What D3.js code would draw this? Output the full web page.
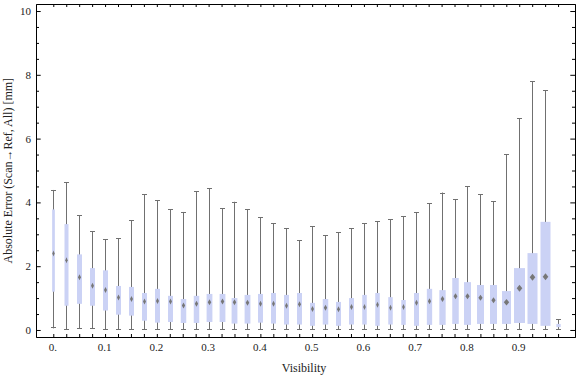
<!DOCTYPE html>
<html lang="en">
<head>
<meta charset="utf-8">
<title>error vs visibility</title>
<script src="https://d3js.org/d3.v7.min.js"></script>
<style>
  body{margin:0;background:#fff;}
  svg text{font-family:"Liberation Serif","Times New Roman",serif;fill:#222;}
  .axis path,.axis line{stroke:#000;}
</style>
</head>
<body>
<div id="chart"></div>
<script>
// one box per visibility bin
var visibility = [0, 0.025, 0.05, 0.075, 0.1, 0.125, 0.15, 0.175, 0.2, 0.225,
                  0.25, 0.275, 0.3, 0.325, 0.35, 0.375, 0.4, 0.425, 0.45, 0.475,
                  0.5, 0.525, 0.55, 0.575, 0.6, 0.625, 0.65, 0.675, 0.7, 0.725,
                  0.75, 0.775, 0.8, 0.825, 0.85, 0.875, 0.9, 0.925, 0.95, 0.975]
var whiskerLow = [0.05, 0, 0.03, 0.03, 0, 0, 0, 0, 0, 0,
                  0, 0, 0, 0, 0, 0, 0, 0, 0, 0,
                  0, 0, 0, 0, 0, 0, 0, 0, 0, 0,
                  0, 0, 0, 0, 0, 0, 0, 0, 0, 0]
var quartileLow = [1.20, 0.76, 0.82, 0.76, 0.61, 0.48, 0.45, 0.29, 0.23, 0.25,
                   0.22, 0.22, 0.25, 0.25, 0.20, 0.20, 0.23, 0.20, 0.17, 0.17,
                   0.13, 0.17, 0.13, 0.17, 0.17, 0.13, 0.17, 0.16, 0.13, 0.16,
                   0.16, 0.19, 0.16, 0.19, 0.19, 0.19, 0.22, 0.19, 0.13, 0.09]
var medians = [2.40, 2.19, 1.65, 1.39, 1.25, 1.02, 0.97, 0.89, 0.91, 0.89,
               0.77, 0.82, 0.87, 0.89, 0.87, 0.85, 0.82, 0.82, 0.76, 0.81,
               0.66, 0.70, 0.65, 0.72, 0.72, 0.79, 0.70, 0.72, 0.85, 0.90,
               0.97, 1.06, 1.06, 1.01, 0.93, 0.87, 1.31, 1.65, 1.67, null]
var quartileHigh = [3.78, 3.32, 2.37, 1.94, 1.87, 1.38, 1.35, 1.16, 1.29, 1.07,
                    0.97, 1.07, 1.13, 1.13, 1.00, 1.10, 1.13, 1.16, 1.10, 1.16,
                    0.85, 0.97, 0.88, 1.00, 1.10, 1.16, 1.03, 0.94, 1.16, 1.29,
                    1.25, 1.63, 1.50, 1.41, 1.41, 1.22, 1.94, 2.41, 3.39, 0.19]
var whiskerHigh = [4.39, 4.63, 3.59, 3.09, 2.84, 2.87, 3.44, 4.26, 4.07, 3.78,
                   3.70, 4.35, 4.44, 3.81, 4.02, 3.78, 3.53, 3.34, 3.19, 2.81,
                   3.25, 2.97, 3.06, 3.19, 3.34, 3.41, 3.47, 3.57, 3.69, 3.97,
                   4.31, 4.10, 4.50, 4.25, 4.03, 5.51, 6.64, 7.80, 7.51, 0.34]
// relative sample count, shown as box width
var sampleCounts = [27, 40, 50, 50, 50, 50, 50, 50, 50, 50,
                    55, 55, 58, 58, 58, 58, 50, 50, 50, 50,
                    50, 55, 50, 50, 45, 45, 45, 45, 50, 53,
                    63, 65, 70, 70, 70, 90, 110, 100, 100, 43]

var xLabelValues = [0, 0.1, 0.2, 0.3, 0.4, 0.5, 0.6, 0.7, 0.8, 0.9]
var xTickLabels = ["0.", "0.1", "0.2", "0.3", "0.4", "0.5", "0.6", "0.7", "0.8", "0.9"]
var yMajor = [0, 2, 4, 6, 8, 10]
var yMinor = [0.5, 1, 1.5, 2.5, 3, 3.5, 4.5, 5, 5.5, 6.5, 7, 7.5, 8.5, 9, 9.5]

var w = 576, h = 377
var plotL = 36, plotR = 575, plotT = 4, plotB = 337

var x = d3.scaleLinear().domain([-0.0334, 1.0077]).range([plotL, plotR])
var y = d3.scaleLinear().domain([-0.22, 10.22]).range([plotB, plotT])
var wScale = d3.scaleLinear().domain([0, 100]).range([0, 10])

var data = visibility.map(function(v, i){
  return {v: v, lo: whiskerLow[i], q1: quartileLow[i], med: medians[i],
          q3: quartileHigh[i], hi: whiskerHigh[i], n: sampleCounts[i]}
})

var svg = d3.select("#chart").append("svg")
  .attr("width", w)
  .attr("height", h)

var boxes = svg.append("g")
var g = boxes.selectAll("g").data(data).enter().append("g")

function cx(d){ return Math.round(x(d.v)) + 0.5 }

// whiskers
g.append("line")
  .attr("x1", cx).attr("x2", cx)
  .attr("y1", function(d){ return y(d.lo) })
  .attr("y2", function(d){ return y(d.hi) })
  .attr("stroke", "#707070")
  .attr("stroke-width", 1)
g.append("line")
  .attr("x1", function(d){ return cx(d) - 2.5 })
  .attr("x2", function(d){ return cx(d) + 2.5 })
  .attr("y1", function(d){ return Math.round(y(d.hi)) + 0.5 })
  .attr("y2", function(d){ return Math.round(y(d.hi)) + 0.5 })
  .attr("stroke", "#707070")
g.append("line")
  .attr("x1", function(d){ return cx(d) - 2.5 })
  .attr("x2", function(d){ return cx(d) + 2.5 })
  .attr("y1", function(d){ return Math.round(y(d.lo)) - 0.5 })
  .attr("y2", function(d){ return Math.round(y(d.lo)) - 0.5 })
  .attr("stroke", "#707070")

// boxes
g.append("rect")
  .attr("x", function(d){ return cx(d) - wScale(d.n) / 2 })
  .attr("width", function(d){ return wScale(d.n) })
  .attr("y", function(d){ return y(d.q3) })
  .attr("height", function(d){ return y(d.q1) - y(d.q3) })
  .attr("fill", "#cbd2f5")

// median diamonds
g.filter(function(d){ return d.med != null })
  .append("path")
  .attr("d", function(d){
    var c = cx(d), m = y(d.med)
    var hw = Math.min(2.8, Math.max(1.2, wScale(d.n) * 0.3))
    var hh = Math.min(3.5, Math.max(3, wScale(d.n) * 0.35))
    return "M" + c + "," + (m - hh) + "L" + (c + hw) + "," + m +
           "L" + c + "," + (m + hh) + "L" + (c - hw) + "," + m + "Z"
  })
  .attr("fill", "#777")

// frame with inward ticks
svg.append("g").attr("class", "axis")
  .attr("transform", "translate(0," + plotB + ")")
  .call(d3.axisBottom(x).tickValues(visibility).tickSize(-3).tickSizeOuter(0).tickFormat(""))
svg.append("g").attr("class", "axis")
  .attr("transform", "translate(0," + plotT + ")")
  .call(d3.axisTop(x).tickValues(visibility).tickSize(-3).tickSizeOuter(0).tickFormat(""))

var xl = svg.append("g").attr("class", "axis")
  .attr("transform", "translate(-1," + plotB + ")")
  .call(d3.axisBottom(x).tickValues(xLabelValues).tickSize(0).tickPadding(6)
    .tickFormat(function(d, i){ return xTickLabels[i] }))
xl.select(".domain").remove()
xl.selectAll("text").attr("font-size", 11).attr("font-family", null)

svg.append("g").attr("class", "axis")
  .attr("transform", "translate(" + plotL + ",0)")
  .call(d3.axisLeft(y).tickValues(yMinor).tickSize(-3).tickSizeOuter(0).tickFormat(""))
var yl = svg.append("g").attr("class", "axis")
  .attr("transform", "translate(" + plotL + ",0)")
  .call(d3.axisLeft(y).tickValues(yMajor).tickSize(-4.7).tickSizeOuter(0).tickPadding(5))
yl.selectAll("text").attr("font-size", 11).attr("font-family", null)

svg.append("g").attr("class", "axis")
  .attr("transform", "translate(" + plotR + ",0)")
  .call(d3.axisRight(y).tickValues(yMinor).tickSize(-3).tickSizeOuter(0).tickFormat(""))
svg.append("g").attr("class", "axis")
  .attr("transform", "translate(" + plotR + ",0)")
  .call(d3.axisRight(y).tickValues(yMajor).tickSize(-4.7).tickSizeOuter(0).tickFormat(""))

// axis titles
svg.append("text")
  .attr("x", 304)
  .attr("y", 372)
  .attr("text-anchor", "middle")
  .attr("font-size", 12)
  .text("Visibility")

svg.append("text")
  .attr("transform", "translate(12,170.7) rotate(-90)")
  .attr("text-anchor", "middle")
  .attr("font-size", 12)
  .text("Absolute Error (Scan\u2192Ref, All) [mm]")
</script>
</body>
</html>
